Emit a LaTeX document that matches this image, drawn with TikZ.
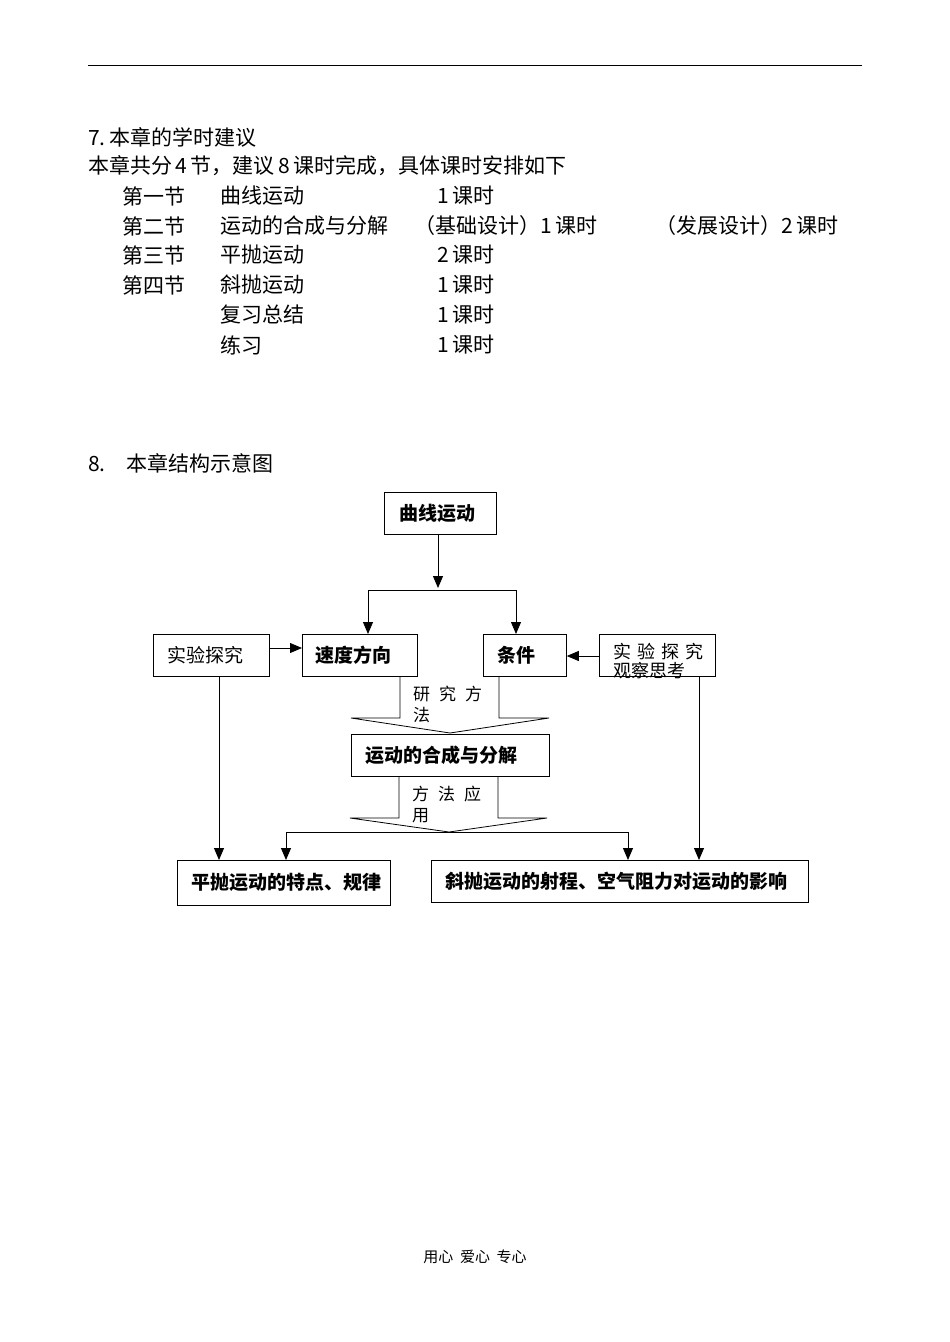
\documentclass[tikz,border=0pt]{standalone}
\usepackage{fontspec}
\setmainfont{Noto Sans CJK SC}
\usetikzlibrary{arrows.meta}
\begin{document}
\begin{tikzpicture}[x=1pt,y=-1pt,
  txt/.style={anchor=west,inner sep=0pt,font=\fontsize{21}{23}\selectfont},
  bx/.style={draw,thick,anchor=north west,inner ysep=0pt,align=left,minimum height=42pt,font=\bfseries\fontsize{19}{21}\selectfont},
  lbl/.style={anchor=north west,inner sep=0pt,align=left,font=\fontsize{17}{21}\selectfont},
  arr/.style={thick,-{Triangle[length=12pt,width=10pt]}},
  ln/.style={thick}]
\useasboundingbox (0,0) rectangle (950,1342);
\draw[thick] (88,65) -- (862,65);
\node[txt] (t7) at (88,137) {7.\,本章的学时建议};
\node[txt] (t7b) at (88,166) {本章共分\,4\,节，建议\,8\,课时完成，具体课时安排如下};
\foreach \a/\b/\c/\y in {第一节/曲线运动/1\,课时/196,第二节/运动的合成与分解/{}/226,第三节/平抛运动/2\,课时/255,第四节/斜抛运动/1\,课时/285,{}/复习总结/1\,课时/315,{}/练习/1\,课时/345}{
  \node[txt] at (122,\y) {\a};
  \node[txt] at (220,\y) {\b};
  \node[txt] at (437,\y) {\c};
}
\node[txt] (b1) at (414,226) {（基础设计）1\,课时};
\node[txt] (b2) at (655,226) {（发展设计）2\,课时};
\node[txt] (t8) at (88,463) {8.\quad 本章结构示意图};
% block arrows (drawn first)
\draw[ln,fill=white] (400,676) -- (400,718) -- (351,718) -- (450,733) -- (549,718) -- (499,718) -- (499,676);
\node[lbl] (l1) at (413,686) {研\hspace{9pt}究\hspace{9pt}方\\法};
\draw[ln,fill=white] (399,776) -- (399,818) -- (350,818) -- (449,832) -- (547,818) -- (498,818) -- (498,776);
\node[lbl] (l2) at (412,786) {方\hspace{9pt}法\hspace{9pt}应\\用};
% boxes
\node[bx,inner xsep=15pt,text width=82pt] (qx) at (384,492) {曲线运动};
\node[bx,inner xsep=14pt,text width=88pt,font=\fontsize{19}{21}\selectfont] (sy1) at (153,634) {实验探究};
\node[bx,inner xsep=13pt,text width=89pt] (sd) at (302,634) {速度方向};
\node[bx,inner xsep=14pt,text width=55pt] (tj) at (483,634) {条件};
\node[bx,inner xsep=14pt,text width=88pt,font=\fontsize{18}{19}\selectfont] (sy2) at (599,634) {\raisebox{0pt}{}};
\node[lbl,font=\fontsize{18}{19}\selectfont] (sy2t) at (613,643) {实\hspace{6pt}验\hspace{6pt}探\hspace{6pt}究\\观察思考};
\node[bx,inner xsep=14pt,text width=170pt] (hc) at (351,734) {运动的合成与分解};
\node[bx,inner xsep=14pt,text width=185pt,minimum height=45pt] (pp) at (177,860) {平抛运动的特点、规律};
\node[bx,inner xsep=14pt,text width=349pt] (xp) at (431,860) {斜抛运动的射程、空气阻力对运动的影响};
% connectors
\coordinate (sp) at (438,590);
\draw[arr] (qx.south-|sp) -- ([yshift=2pt]sp);
\draw[arr] (sp) -| (368,634);
\draw[arr] (sp) -| (516,634);
\draw[arr] (sy1.east|-0,648) -- (sd.west|-0,648);
\draw[arr] (sy2.west|-0,656) -- (tj.east|-0,656);
\draw[arr] (219,676) -- (219,860);
\draw[arr] (699,676) -- (699,860);
\coordinate (sp2) at (449,832);
\draw[arr] (sp2) -| (286,860);
\draw[arr] (sp2) -| (628,860);
\node[font=\fontsize{15}{16}\selectfont] (ft) at (475,1257) {用心\ \ 爱心\ \ 专心};
\end{tikzpicture}
\end{document}
